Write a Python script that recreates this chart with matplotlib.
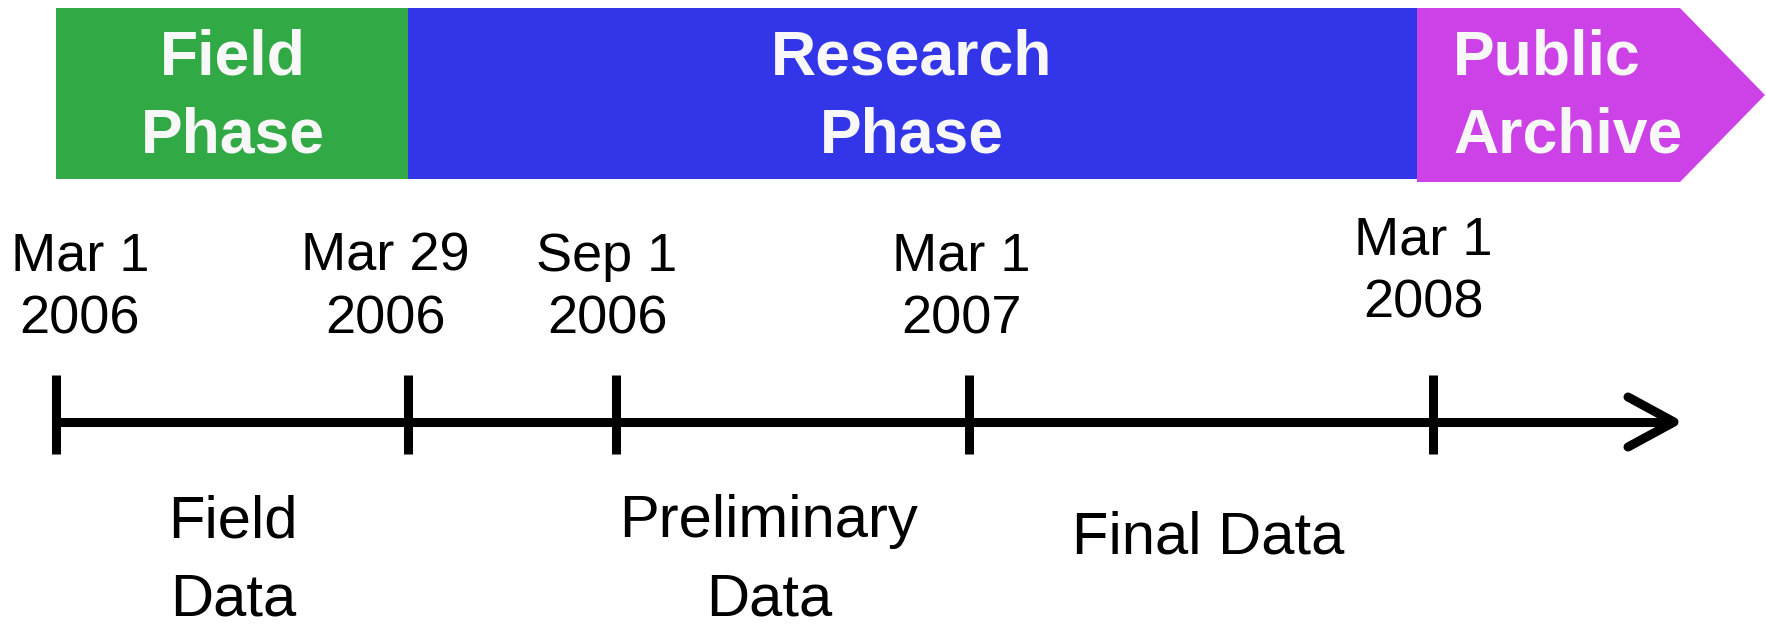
import matplotlib.pyplot as plt
from matplotlib.patches import Rectangle, Polygon

# phases (top banner)
phase_names = ["Field\nPhase", "Research\nPhase", "Public\nArchive"]
phase_colors = ["#31aa45", "#3236e8", "#cc42e6"]
phase_edges = [56, 408, 1417, 1680]

# milestones on the time line
milestone_labels = ["Mar 1\n2006", "Mar 29\n2006", "Sep 1\n2006", "Mar 1\n2007", "Mar 1\n2008"]
milestone_x = [56, 408, 616, 969, 1433]

# data products below the line
product_labels = ["Field\nData", "Preliminary\nData", "Final Data"]

plt.rcParams['font.family'] = ['Liberation Sans', 'DejaVu Sans']

fig = plt.figure(figsize=(17.66, 6.25), dpi=100)
ax = fig.add_axes([0, 0, 1, 1])
ax.set_xlim(0, 1766)
ax.set_ylim(625, 0)
ax.axis('off')

# banner
top, bot = 8, 179
for i in range(2):
    ax.add_patch(Rectangle((phase_edges[i], top), phase_edges[i + 1] - phase_edges[i], bot - top,
                           color=phase_colors[i], lw=0))
ax.add_patch(Polygon([(phase_edges[2], top), (phase_edges[3], top), (1765, 95),
                      (phase_edges[3], 182), (phase_edges[2], 182)],
                     closed=True, color=phase_colors[2], lw=0))

ax.text(233, 97, phase_names[0], ha='center', va='center', color='#f8f8f8',
        fontsize=45, fontweight='bold', linespacing=1.42)
ax.text(912, 97, phase_names[1], ha='center', va='center', color='#f8f8f8',
        fontsize=45, fontweight='bold', linespacing=1.42)
ax.text(1453, 97, phase_names[2], ha='left', va='center', color='#f8f8f8',
        fontsize=45, fontweight='bold', linespacing=1.42, multialignment='left')

# time line
line_y = 422
ax.plot([milestone_x[0], 1672], [line_y, line_y], color='black', lw=6.5, solid_capstyle='butt')
ax.plot([1628, 1674, 1628], [397, line_y, 447], color='black', lw=6.5,
        solid_capstyle='round', solid_joinstyle='round')
for x in milestone_x:
    ax.plot([x, x], [375, 454], color='black', lw=6.5, solid_capstyle='butt')

label_x = [80, 385, 607, 961, 1423]
label_y = [288, 288, 288, 288, 272]
for lab, x, y in zip(milestone_labels, label_x, label_y):
    ax.text(x, y, lab, ha='center', va='center', fontsize=39, linespacing=1.31)

ax.text(233, 561, product_labels[0], ha='center', va='center', fontsize=43, linespacing=1.55)
ax.text(769, 561, product_labels[1], ha='center', va='center', fontsize=43, linespacing=1.55)
ax.text(1208, 538, product_labels[2], ha='center', va='center', fontsize=43)

fig.savefig('out.png', dpi=100)
